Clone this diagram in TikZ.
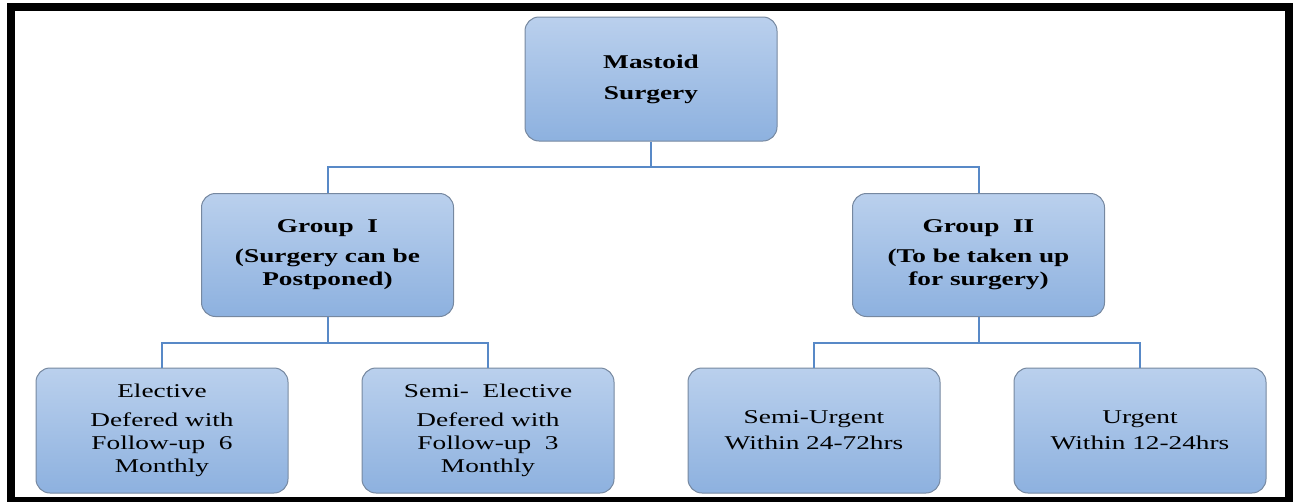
\documentclass[tikz,border=0pt]{standalone}
\usepackage{fontspec}
\setmainfont{Liberation Serif}[FakeStretch=1.4]
\usetikzlibrary{positioning}
\definecolor{boxtop}{RGB}{186,208,237}
\definecolor{boxbottom}{RGB}{141,177,223}
\definecolor{boxedge}{RGB}{118,136,160}
\definecolor{linkblue}{RGB}{88,137,199}
\begin{document}
\begin{tikzpicture}[
                            x=1pt, y=-1pt,
                            node distance=326pt,
                            box/.style={rectangle, draw=boxedge, line width=1pt, rounded corners=14pt,
                                top color=boxtop, bottom color=boxbottom,
                                minimum width=252pt, minimum height=125pt, align=center,
                                font=\fontsize{19.5}{23}\selectfont},
                            headbox/.style={box, minimum height=123pt, font=\fontsize{19.5}{23}\selectfont\bfseries},
                            link/.style={draw=linkblue, line width=2pt}
                        ]
                        \useasboundingbox (0,0) rectangle (1293,501);
                        % Frame
                        \draw [line width=8pt] (11,7) rectangle (1289,501);

                        % Blocks
                        \node [headbox, minimum height=124pt] (mastoid) at (651,79) {Mastoid\\[8pt]Surgery};
                        \node [headbox] (groupI) at (327.5,255) {Group\ \ I\\[7pt](Surgery can be\\Postponed)};
                        \node [headbox, right of=groupI, node distance=651pt] (groupII) {Group\ \ II\\[7pt](To be taken up\\for surgery)};
                        \node [box] (elective) at (162,430.5) {Elective\\[6pt]Defered with\\Follow-up\ \ 6\\Monthly};
                        \node [box, right of=elective] (semielective) {Semi-\ \ Elective\\[6pt]Defered with\\Follow-up\ \ 3\\Monthly};
                        \node [box, right of=semielective] (semiurgent) {Semi-Urgent\\[3pt]Within 24-72hrs};
                        \node [box, right of=semiurgent] (urgent) {Urgent\\[3pt]Within 12-24hrs};

                        % Branch points
                        \path (mastoid.south) ++(0,25) coordinate (splitM);
                        \path (groupI.south) ++(0,26) coordinate (splitI);
                        \path (groupII.south) ++(0,26) coordinate (splitII);

                        % Connections
                        \draw [link] (mastoid.south) -- (splitM);
                        \draw [link] (splitM) -| (groupI.north);
                        \draw [link] (splitM) -| (groupII.north);
                        \draw [link] (groupI.south) -- (splitI);
                        \draw [link] (splitI) -| (elective.north);
                        \draw [link] (splitI) -| (semielective.north);
                        \draw [link] (groupII.south) -- (splitII);
                        \draw [link] (splitII) -| (semiurgent.north);
                        \draw [link] (splitII) -| (urgent.north);
                    \end{tikzpicture}
\end{document}
